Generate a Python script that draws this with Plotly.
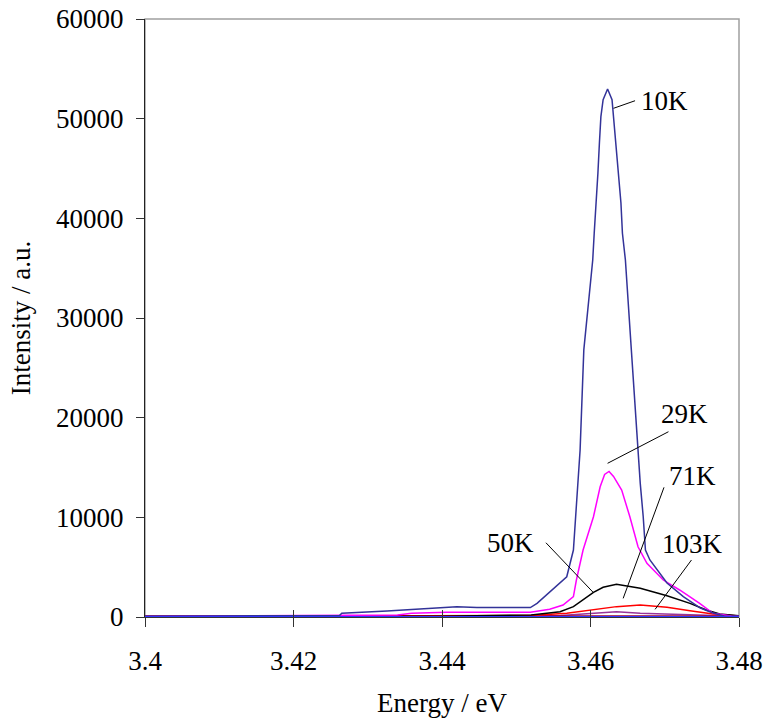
import plotly.graph_objects as go

# ---------------- data ----------------
x_10K = [3.400, 3.415, 3.420, 3.4262, 3.4265, 3.4300, 3.4326, 3.4348, 3.4370, 3.4395, 3.4420,
         3.4447, 3.4519, 3.4528, 3.4545, 3.4557, 3.4568, 3.4577, 3.4581, 3.4586, 3.4591,
         3.4603, 3.4605, 3.4607, 3.4610, 3.4612, 3.4614, 3.4617, 3.4623, 3.4629, 3.4631,
         3.4634, 3.4637, 3.4641, 3.4643, 3.4647, 3.4655, 3.4664, 3.4667, 3.4671, 3.4674,
         3.4680, 3.4703, 3.4725, 3.4748, 3.4765, 3.4780, 3.4810]
y_10K = [80, 100, 120, 150, 370, 470, 600, 700, 800, 940, 1040,
         950, 950, 1370, 2540, 3380, 4040, 6720, 11740, 16750, 26800,
         35820, 38500, 41540, 44550, 47560, 50200, 51900, 52980, 51900, 50200,
         47560, 44550, 41540, 38500, 35820, 26800, 16650, 13410, 10060, 6720,
         5720, 3410, 2040, 900, 400, 100, 50]

x_29K = [3.400, 3.420, 3.434, 3.4359, 3.4406, 3.4519, 3.4545, 3.4563, 3.4577, 3.4581,
         3.4590, 3.4604, 3.4613, 3.4619, 3.4625, 3.4631, 3.4642, 3.4653, 3.4664, 3.4676,
         3.4698, 3.4720, 3.4747, 3.4765, 3.4790, 3.4810]
y_29K = [60, 100, 200, 370, 470, 470, 770, 1200, 2040, 3710,
         6720, 10060, 13070, 14300, 14600, 14100, 12740, 10060, 7050, 5390,
         3710, 2710, 1370, 370, 100, 50]

x_50K = [3.400, 3.440, 3.452, 3.4559, 3.4577, 3.4604, 3.4617, 3.4635, 3.4667, 3.4703,
         3.4734, 3.4756, 3.4774, 3.4800, 3.4810]
y_50K = [40, 80, 200, 530, 1040, 2480, 2980, 3280, 2880, 2140,
         1370, 700, 300, 100, 60]

x_71K = [3.400, 3.440, 3.452, 3.4568, 3.4604, 3.4635, 3.4667, 3.4703, 3.4734, 3.4765,
         3.4800, 3.4810]
y_71K = [60, 120, 150, 370, 700, 1040, 1200, 970, 630, 300, 100, 60]

x_103K = [3.400, 3.440, 3.456, 3.4604, 3.4635, 3.4667, 3.4700, 3.4760, 3.4810]
y_103K = [30, 60, 150, 370, 530, 370, 300, 120, 50]

x_base_a = [3.400, 3.430, 3.440, 3.455, 3.470, 3.481]
y_base_a = [20, 20, 30, 40, 30, 20]
x_base_b = [3.400, 3.420, 3.440, 3.455, 3.470, 3.481]
y_base_b = [100, 120, 80, 90, 110, 80]

series = [
    ("103K", x_103K, y_103K, "#993399"),
    ("base_b", x_base_b, y_base_b, "#990033"),
    ("71K", x_71K, y_71K, "#FF0000"),
    ("50K", x_50K, y_50K, "#000000"),
    ("29K", x_29K, y_29K, "#FF00FF"),
    ("10K", x_10K, y_10K, "#333399"),
    ("base_a", x_base_a, y_base_a, "#3333FF"),
]

# labels: name, text x/y, leader line start (near text) and end (on curve)
label_names = ["10K", "29K", "50K", "71K", "103K"]
label_x = [3.4699, 3.4727, 3.4492, 3.4737, 3.4738]
label_y = [51740, 20370, 7420, 14150, 7320]
lead_x0 = [3.4660, 3.4705, 3.4540, 3.4699, 3.4736]
lead_y0 = [51800, 18590, 7450, 13010, 5720]
lead_x1 = [3.4631, 3.4623, 3.4604, 3.4644, 3.4687]
lead_y1 = [51040, 15420, 2440, 1870, 770]

x_ticks = [3.40, 3.42, 3.44, 3.46, 3.48]
x_ticktext = ["3.4", "3.42", "3.44", "3.46", "3.48"]
y_ticks = [0, 10000, 20000, 30000, 40000, 50000, 60000]
y_ticktext = ["0", "10000", "20000", "30000", "40000", "50000", "60000"]

FONT = "Liberation Serif"
FS = 27

fig = go.Figure()
for name, xs, ys, col in series:
    fig.add_trace(go.Scatter(x=xs, y=ys, mode="lines", name=name,
                             line=dict(color=col, width=1.5), showlegend=False,
                             hoverinfo="skip"))

for i in range(len(label_names)):
    fig.add_shape(type="line", xref="x", yref="y",
                  x0=lead_x0[i], y0=lead_y0[i], x1=lead_x1[i], y1=lead_y1[i],
                  line=dict(color="#000000", width=1))
    fig.add_annotation(x=label_x[i], y=label_y[i], xref="x", yref="y",
                       text=label_names[i], showarrow=False,
                       font=dict(family=FONT, size=FS, color="#000000"))

# gray plot-area frame
fig.add_shape(type="rect", xref="paper", yref="paper", x0=0, y0=0, x1=1, y1=1,
              line=dict(color="#A0A0A0", width=1.5), layer="below")

fig.update_layout(
    width=767, height=727,
    margin=dict(l=145, r=28, t=19, b=110, autoexpand=False),
    paper_bgcolor="white", plot_bgcolor="white",
    font=dict(family=FONT, size=FS, color="#000000"),
    xaxis=dict(range=[3.4, 3.48], tickvals=x_ticks, ticktext=x_ticktext, automargin=False,
               showgrid=False, zeroline=False, showline=True, linecolor="#333333",
               linewidth=1.2, ticks="outside", ticklen=9, tickcolor="#333333",
               tickwidth=1.2, tickfont=dict(family=FONT, size=FS), ticklabelstandoff=10,
               title=dict(text="Energy / eV", font=dict(family=FONT, size=FS), standoff=18)),
    xaxis2=dict(range=[3.4, 3.48], tickvals=x_ticks, overlaying="x", anchor="y",
                side="bottom", showticklabels=False, showgrid=False, zeroline=False,
                ticks="inside", ticklen=7, tickcolor="#333333", tickwidth=1.2,
                showline=False, automargin=False),
    yaxis=dict(range=[0, 60000], tickvals=y_ticks, ticktext=y_ticktext, automargin=False,
               showgrid=False, zeroline=False, showline=True, linecolor="#222222",
               linewidth=1.2, ticks="outside", ticklen=8, tickcolor="#333333",
               tickwidth=1.2, tickfont=dict(family=FONT, size=FS), ticklabelstandoff=7,
               title=dict(text="Intensity / a.u.", font=dict(family=FONT, size=FS), standoff=17)),
)
# dummy trace to activate xaxis2
fig.add_trace(go.Scatter(x=[3.4], y=[None], xaxis="x2", yaxis="y", mode="lines",
                         showlegend=False, hoverinfo="skip"))

fig.write_html("out.html")
